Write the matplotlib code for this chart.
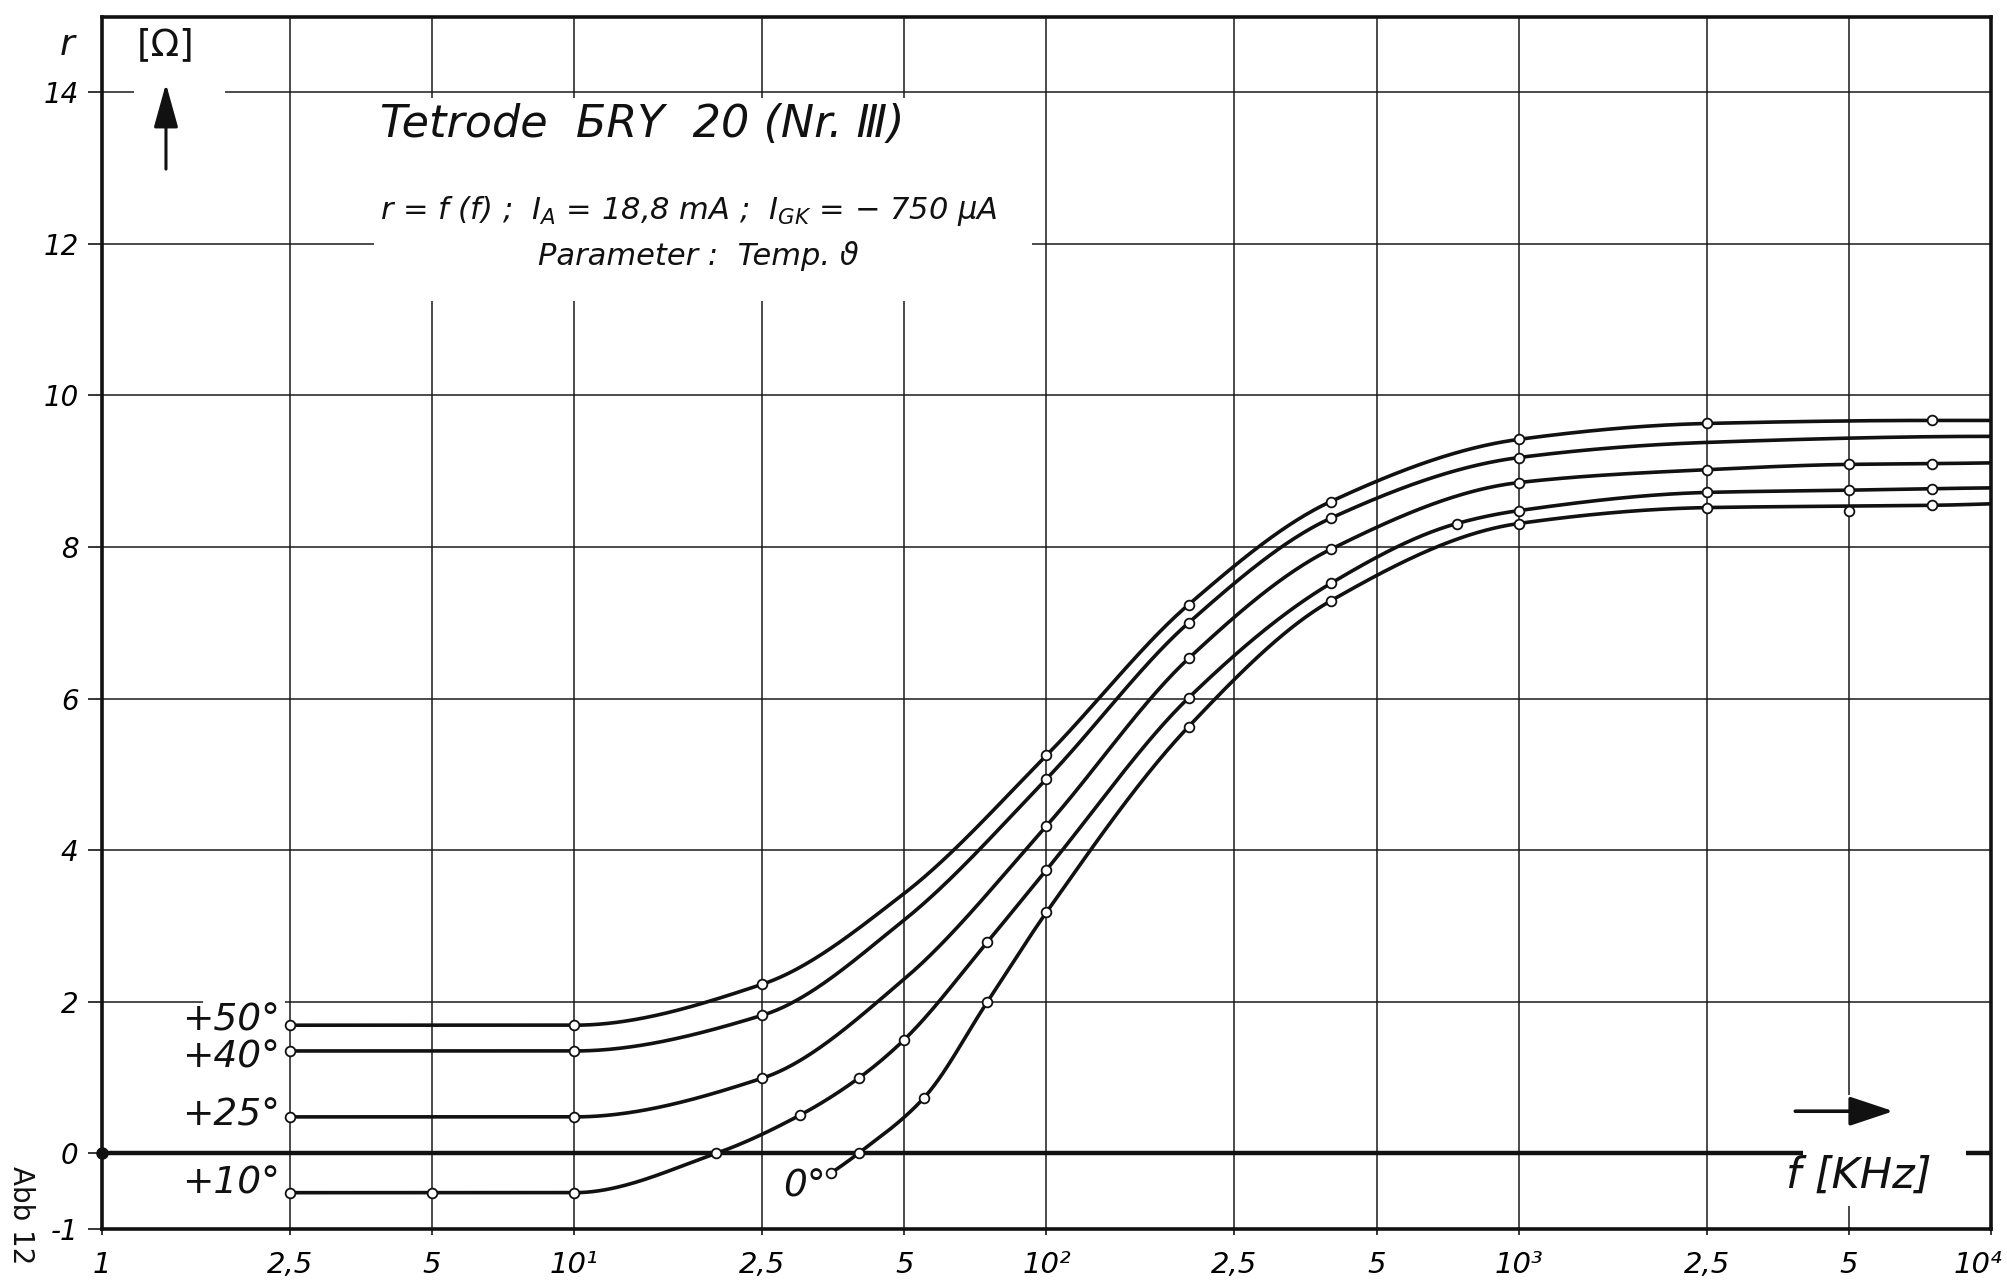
import numpy as np
import matplotlib
matplotlib.use("Agg")
import matplotlib.pyplot as plt
import matplotlib.transforms as mtransforms
from matplotlib.patches import Rectangle

plt.rcParams['font.family'] = ['DejaVu Sans']
plt.rcParams['mathtext.fontset'] = 'dejavusans'

# ---- measured points: frequency f [kHz] -> resistance r [Ohm] ----
f_50 = [2.5, 10, 25, 100, 200, 400, 1000, 2500, 7500]
r_50 = [1.69, 1.69, 2.23, 5.25, 7.24, 8.60, 9.42, 9.63, 9.67]

f_40 = [2.5, 10, 25, 100, 200, 400, 1000]
r_40 = [1.35, 1.35, 1.82, 4.94, 7.00, 8.38, 9.18]

f_25 = [2.5, 10, 25, 100, 200, 400, 1000, 2500, 5000, 7500]
r_25 = [0.48, 0.48, 0.99, 4.32, 6.53, 7.97, 8.85, 9.02, 9.09, 9.10]

f_10 = [2.5, 5, 10, 20, 30, 40, 50, 75, 100, 200, 400, 740, 1000, 2500, 5000, 7500]
r_10 = [-0.52, -0.52, -0.52, 0.0, 0.50, 0.99, 1.50, 2.79, 3.74, 6.01, 7.52, 8.31, 8.48, 8.72, 8.75, 8.77]

f_0 = [35, 40, 55, 75, 100, 200, 400, 1000, 2500, 5000, 7500]
r_0 = [-0.26, 0.0, 0.73, 2.0, 3.18, 5.63, 7.29, 8.31, 8.52, 8.48, 8.55]

# points read along the drawn curves where no measurement marker sits
cf_50, cr_50 = [50, 10000], [3.43, 9.67]
cf_40, cr_40 = [50, 2500, 10000], [3.08, 9.38, 9.46]
cf_25, cr_25 = [50, 10000], [2.30, 9.11]
cf_10, cr_10 = [10000], [8.78]
cf_0, cr_0 = [5000, 10000], [8.54, 8.57]

labels = ['+50°', '+40°', '+25°', '+10°', '0°']
label_y = [1.75, 1.26, 0.50, -0.40, -0.44]

x_ticks = [1, 2.5, 5, 10, 25, 50, 100, 250, 500, 1000, 2500, 5000, 10000]
x_ticklabels = ['1', '2,5', '5', '10¹', '2,5', '5', '10²', '2,5', '5', '10³', '2,5', '5', '10⁴']
y_ticks = [-1, 0, 2, 4, 6, 8, 10, 12, 14]


def knots(mf, mr, cf, cr):
    """Merge marker points and curve points; curve points take precedence."""
    d = dict(zip(mf, mr))
    d.update(dict(zip(cf, cr)))
    xs = sorted(d)
    return np.log10(np.array(xs, float)), np.array([d[k] for k in xs], float)


def pchip(x, y, xn):
    h = np.diff(x)
    d = np.diff(y) / h
    n = len(x)
    m = np.zeros(n)
    for k in range(1, n - 1):
        if d[k - 1] * d[k] > 0:
            w1 = 2 * h[k] + h[k - 1]
            w2 = h[k] + 2 * h[k - 1]
            m[k] = (w1 + w2) / (w1 / d[k - 1] + w2 / d[k])
    if n > 2:
        m0 = ((2 * h[0] + h[1]) * d[0] - h[0] * d[1]) / (h[0] + h[1])
        m[0] = m0 if m0 * d[0] > 0 else 0.0
        mn = ((2 * h[-1] + h[-2]) * d[-1] - h[-1] * d[-2]) / (h[-1] + h[-2])
        m[-1] = mn if mn * d[-1] > 0 else 0.0
    else:
        m[:] = d[0]
    idx = np.clip(np.searchsorted(x, xn) - 1, 0, n - 2)
    t = (xn - x[idx]) / h[idx]
    h00 = 2 * t**3 - 3 * t**2 + 1
    h10 = t**3 - 2 * t**2 + t
    h01 = -2 * t**3 + 3 * t**2
    h11 = t**3 - t**2
    return h00 * y[idx] + h10 * h[idx] * m[idx] + h01 * y[idx + 1] + h11 * h[idx] * m[idx + 1]


fig = plt.figure(figsize=(20.08, 12.8), dpi=100)
ax = fig.add_axes([0.0508, 0.0398, 0.9407, 0.9473])
ax.set_xscale('log')
ax.set_xlim(1, 1e4)
ax.set_ylim(-1, 15)

ax.set_xticks(x_ticks)
ax.set_xticklabels(x_ticklabels)
ax.xaxis.set_minor_locator(matplotlib.ticker.NullLocator())
ax.set_yticks(y_ticks)
ax.set_yticklabels([str(v) for v in y_ticks])
ax.grid(True, color='#1a1a1a', lw=1.1)
ax.tick_params(axis='y', length=10, width=1.1, direction='out', pad=7,
               labelsize=20)
ax.tick_params(axis='x', length=4, width=1.1, direction='out', pad=12,
               labelsize=21)
for lab in ax.get_xticklabels() + ax.get_yticklabels():
    lab.set_fontstyle('oblique')
# keep the last frequency label inside the sheet
last = ax.get_xticklabels()[-1]
last.set_horizontalalignment('right')
last.set_transform(last.get_transform() +
                   mtransforms.ScaledTranslation(8 / 72, 0, fig.dpi_scale_trans))
for s in ax.spines.values():
    s.set_linewidth(2.6)
    s.set_color('#111111')

# thick zero line
ax.axhline(0, color='#111111', lw=3.2, zorder=2)
ax.plot([1], [0], 'o', ms=8, color='#111111', clip_on=False, zorder=5)

# white areas behind lettering
masks = [
    (3.76, 11.24, 93.0, 13.92),      # title block
    (1.166, 13.8, 1.82, 14.2),       # arrow gap at r = 14
    (1.64, 1.85, 2.44, 2.15),        # label gap at r = 2
    (3992, -0.69, 8876, 0.77),       # frequency unit label
]
for x0, y0, x1, y1 in masks:
    ax.add_patch(Rectangle((x0, y0), x1 - x0, y1 - y0, facecolor='white',
                           edgecolor='none', zorder=2.2))

series = [
    (f_50, r_50, cf_50, cr_50),
    (f_40, r_40, cf_40, cr_40),
    (f_25, r_25, cf_25, cr_25),
    (f_10, r_10, cf_10, cr_10),
    (f_0, r_0, cf_0, cr_0),
]
for mf, mr, cf, cr in series:
    kx, ky = knots(mf, mr, cf, cr)
    xs = np.linspace(kx[0], kx[-1], 800)
    ax.plot(10**xs, pchip(kx, ky, xs), color='#111111', lw=2.6, zorder=3,
            solid_capstyle='butt')
    ax.plot(mf, mr, 'o', ms=7, mfc='white', mec='#111111', mew=1.3,
            zorder=4, clip_on=False)

# curve parameter labels
for lab, ly in zip(labels[:4], label_y[:4]):
    ax.annotate(lab, xy=(2.5, ly), xytext=(-7, 0), textcoords='offset points',
                ha='right', va='center', fontsize=27, fontstyle='oblique',
                color='#111111', zorder=5)
ax.text(27.7, label_y[4], labels[4], ha='left', va='center', fontsize=27,
        fontstyle='oblique', color='#111111', zorder=5)

# axis arrows
ax.annotate('', xy=(1.366, 14.15), xytext=(1.366, 12.95),
            arrowprops=dict(arrowstyle='-|>,head_length=0.9,head_width=0.25',
                            lw=2.2, color='#111111', mutation_scale=30),
            zorder=5)
ax.annotate('', xy=(6300, 0.555), xytext=(3800, 0.555),
            arrowprops=dict(arrowstyle='-|>,head_length=0.9,head_width=0.3',
                            lw=2.6, color='#111111', mutation_scale=30),
            zorder=5)
ax.text(5250, -0.29, 'f [KHz]', ha='center', va='center', fontsize=31,
        fontstyle='oblique', color='#111111', zorder=5)

# axis quantity labels
fig.text(0.0334, 0.965, 'r', ha='center', va='center', fontsize=26,
         fontstyle='oblique', color='#111111')
fig.text(0.0827, 0.965, '[Ω]', ha='center', va='center', fontsize=27,
         color='#111111')
fig.text(0.0105, 0.051, 'Abb 12', ha='center', va='center', fontsize=20,
         rotation=-90, color='#111111')

# title block
fig.text(0.189, 0.903, 'Tetrode  БRY  20 (Nr. Ⅲ)', ha='left', va='center',
         fontsize=32, fontstyle='oblique', color='#111111')
fig.text(0.189, 0.835,
         r'r = f (f) ;  $I_{A}$ = 18,8 mA ;  $I_{GK}$ = − 750 $\mu$A',
         ha='left', va='center', fontsize=22, fontstyle='oblique',
         color='#111111')
fig.text(0.268, 0.800, 'Parameter :  Temp. ϑ', ha='left', va='center',
         fontsize=22, fontstyle='oblique', color='#111111')

fig.savefig('out.png', dpi=100, facecolor='white')
